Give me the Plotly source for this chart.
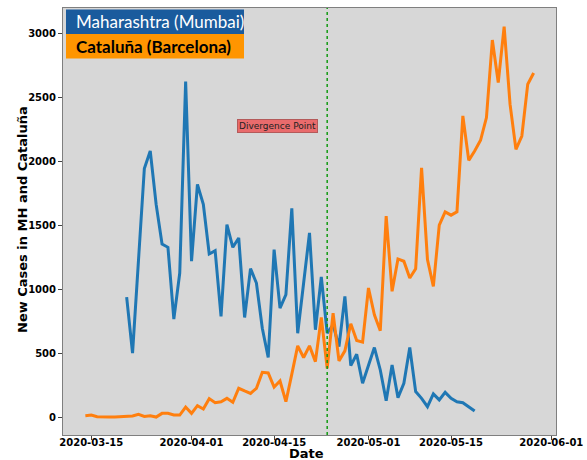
"""New cases: Maharashtra (Mumbai) vs Cataluna (Barcelona) - Plotly."""

import pandas as pd
import plotly.graph_objects as go

# Maharashtra (Mumbai), daily new cases 2020-03-21 .. 2020-05-19
mh_start = '2020-03-21'
mh_cases = [942, 504, 1225, 1947, 2083, 1666, 1357, 1331, 770, 1130, 2626,
            1222, 1822, 1666, 1279, 1305, 791, 1509, 1331, 1404, 783, 1164,
            1052, 699, 470, 1313, 856, 961, 1636, 660, 1050, 1443, 687, 1099,
            660, 726, 556, 947, 407, 496, 269,
            400, 548, 373, 133, 412, 157, 269, 548, 204, 151, 86, 186, 139,
            198, 151, 125, 117, 86, 52]

# Cataluna (Barcelona), daily new cases 2020-03-14 .. 2020-05-29
cat_start = '2020-03-14'
cat_cases = [16, 21, 8, 5, 5, 5, 8, 13, 13, 26, 10, 16, 5, 34, 34, 21, 21, 83,
             34, 94, 68, 149, 117, 125, 151, 120, 230, 209, 190, 230, 355, 350,
             240, 287, 125, 340, 561, 470, 561, 438, 783, 386, 817, 444, 522,
             734, 603, 590,
             1013, 804, 679, 1574, 987, 1240, 1222, 1091, 1164, 1952, 1235,
             1026, 1504, 1608, 1582, 1608, 2357, 2010, 2083, 2167, 2344, 2950,
             2618, 3054, 2449, 2096, 2200, 2605, 2692]

x_ticks = ['2020-03-15', '2020-04-01', '2020-04-15', '2020-05-01',
           '2020-05-15', '2020-06-01']
y_ticks = [0, 500, 1000, 1500, 2000, 2500, 3000]

divergence_date = '2020-04-24'
label_date = '2020-04-15 12:00'
label_value = 2280

mh_dates = pd.date_range(mh_start, periods=len(mh_cases), freq='D')
cat_dates = pd.date_range(cat_start, periods=len(cat_cases), freq='D')

COLOR_MH = '#1f77b4'
COLOR_CAT = '#ff7f0e'
TICK_FONT = dict(family='DejaVu Sans', size=10, color='black', weight='bold')
TITLE_FONT = dict(family='DejaVu Sans', size=13, color='black', weight='bold')

fig = go.Figure()
fig.add_trace(go.Scatter(x=mh_dates, y=mh_cases, mode='lines',
                         name='Maharashtra (Mumbai)',
                         line=dict(color=COLOR_MH, width=3)))
fig.add_trace(go.Scatter(x=cat_dates, y=cat_cases, mode='lines',
                         name='Cataluña (Barcelona)',
                         line=dict(color=COLOR_CAT, width=3)))

# linea de divergencia
fig.add_shape(type='line', xref='x', yref='paper',
              x0=divergence_date, x1=divergence_date, y0=0, y1=1,
              line=dict(color='#129a12', width=1.5, dash='dot'))

fig.add_annotation(x=label_date, y=label_value, xref='x', yref='y',
                   text='Divergence Point', showarrow=False,
                   font=dict(family='DejaVu Sans', size=9, color='#222'),
                   bgcolor='#e96b6c', bordercolor='#b45a5a', borderwidth=1,
                   borderpad=1)

# geometria del area de trazado (px)
plot_l, plot_r, plot_t, plot_b = 63, 556, 8, 435
pw, ph = plot_r - plot_l, plot_b - plot_t


def px_x(v):
    return (v - plot_l) / pw


def px_y(v):
    return 1 - (v - plot_t) / ph


# leyenda dibujada como cajas de color
legend_rows = [('Maharashtra (Mumbai)', '#1a5b9d', 'white', 'normal', 9.5, 34),
               ('Cataluña (Barcelona)', '#ff9500', 'black', 'bold', 34, 58.5)]
for text, bg, fg, weight, top, bottom in legend_rows:
    fig.add_shape(type='rect', xref='paper', yref='paper',
                  x0=px_x(66), x1=px_x(244), y0=px_y(bottom), y1=px_y(top),
                  fillcolor=bg, line=dict(width=0), layer='above')
    fig.add_annotation(xref='paper', yref='paper', x=px_x(74),
                       y=px_y((top + bottom) / 2), xanchor='left',
                       yanchor='middle', text=text, showarrow=False,
                       font=dict(family='Lato', size=17, color=fg,
                                 weight=weight))

# titulos de ejes como anotaciones para fijar su posicion
fig.add_annotation(xref='paper', yref='paper', x=px_x(22), y=px_y(220),
                   text='New Cases in MH and Cataluña', textangle=-90,
                   showarrow=False, font=TITLE_FONT,
                   xanchor='center', yanchor='middle')
fig.add_annotation(xref='paper', yref='paper', x=px_x(306), y=px_y(453),
                   text='Date', showarrow=False, font=TITLE_FONT,
                   xanchor='center', yanchor='middle')

fig.update_layout(
    width=587, height=460,
    margin=dict(l=plot_l, r=587 - plot_r, t=plot_t, b=460 - plot_b),
    paper_bgcolor='white', plot_bgcolor='#d7d7d7',
    showlegend=False,
)
fig.update_xaxes(range=['2020-03-10 05:00', '2020-06-01 19:00'],
                 tickvals=x_ticks, tickformat='%Y-%m-%d', tickfont=TICK_FONT,
                 ticks='outside', ticklen=4, tickcolor='#444',
                 ticklabelstandoff=-6,
                 showline=True, linecolor='#7f7f7f', linewidth=1, mirror=True,
                 showgrid=False, zeroline=False, automargin=False)
fig.update_yaxes(range=[-135, 3200], tickvals=y_ticks, tickfont=TICK_FONT,
                 ticks='outside', ticklen=4, tickcolor='#444',
                 showline=True, linecolor='#7f7f7f', linewidth=1, mirror=True,
                 showgrid=False, zeroline=False, automargin=False)

fig.write_html('out.html', config={'displayModeBar': False},
               post_script="document.body.style.margin='0';")
